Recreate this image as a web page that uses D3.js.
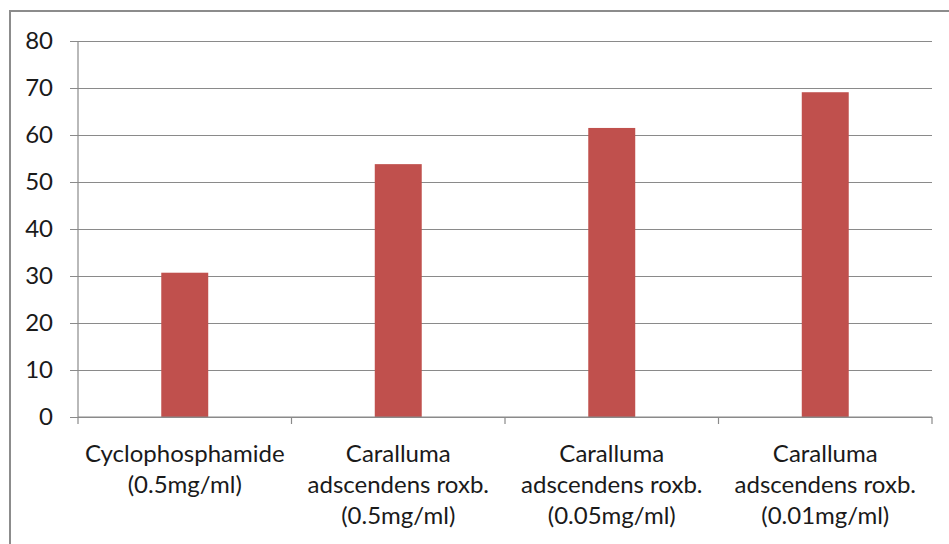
<!DOCTYPE html>
<html>
<head>
<meta charset="utf-8">
<script src="https://cdn.jsdelivr.net/npm/d3@7"></script>
<style>
  body { margin: 0; background: #fff; }
  svg { display: block; }
  .grid line { stroke: #8a8a8a; stroke-width: 1.2; }
  .grid path { display: none; }
  text { font-family: Lato, "Open Sans", sans-serif; fill: #1a1a1a; }
</style>
</head>
<body>
<svg id="grafico" width="949" height="544"></svg>
<script>
const categorias = [
  'Cyclophosphamide\n(0.5mg/ml)',
  'Caralluma\nadscendens roxb.\n(0.5mg/ml)',
  'Caralluma\nadscendens roxb.\n(0.05mg/ml)',
  'Caralluma\nadscendens roxb.\n(0.01mg/ml)'
]
const valores = [30.7, 53.8, 61.5, 69.1]
const yTicks = [0, 10, 20, 30, 40, 50, 60, 70, 80]

const svg = d3.select('#grafico')

const margin = { top: 41, bottom: 127, left: 78, right: 17 }
const width = 949 - margin.left - margin.right
const height = 544 - margin.top - margin.bottom

/*moldura*/
svg.append('rect')
  .attr('x', 10)
  .attr('y', 11)
  .attr('width', 960)
  .attr('height', 560)
  .attr('fill', 'none')
  .attr('stroke', '#8c8c8c')
  .attr('stroke-width', 2)

const chart = svg.append('g')
  .attr('transform', `translate(${margin.left}, ${margin.top})`)

const xSlot = d3.scaleBand()
  .range([0, width])
  .domain(d3.range(categorias.length))
  .padding(0)

const xBar = d3.scaleBand()
  .range([0, width])
  .domain(d3.range(categorias.length))
  .paddingInner(0.78)
  .paddingOuter(0.39)

const yScale = d3.scaleLinear()
  .range([height, 0])
  .domain([0, 80])

/*linhas de grade*/
chart.append('g')
  .attr('class', 'grid')
  .call(d3.axisLeft(yScale)
    .tickValues(yTicks)
    .tickSize(-width)
    .tickFormat('')
  )
  .call(g => g.selectAll('line').attr('x1', -8))

/*eixo y*/
chart.append('line')
  .attr('x1', 0).attr('x2', 0)
  .attr('y1', 0).attr('y2', height)
  .attr('stroke', '#8a8a8a')
  .attr('stroke-width', 1.2)

chart.append('g')
  .selectAll('text')
  .data(yTicks)
  .enter()
  .append('text')
  .attr('x', -25)
  .attr('y', (d) => yScale(d))
  .attr('dy', '0.35em')
  .attr('text-anchor', 'end')
  .attr('font-size', 24)
  .text((d) => d)

/*barras*/
chart.selectAll('.bar')
  .data(valores)
  .enter()
  .append('rect')
  .attr('class', 'bar')
  .attr('x', (d, i) => xBar(i))
  .attr('y', (d) => yScale(d))
  .attr('width', xBar.bandwidth())
  .attr('height', (d) => height - yScale(d))
  .attr('fill', '#c0504d')

/*eixo x*/
chart.append('line')
  .attr('x1', 0).attr('x2', width)
  .attr('y1', height).attr('y2', height)
  .attr('stroke', '#8a8a8a')
  .attr('stroke-width', 1.2)

const bordas = d3.range(categorias.length + 1).map((i) => i * xSlot.step())
chart.append('g')
  .selectAll('line')
  .data(bordas)
  .enter()
  .append('line')
  .attr('x1', (d) => d).attr('x2', (d) => d)
  .attr('y1', height).attr('y2', height + 7)
  .attr('stroke', '#8a8a8a')
  .attr('stroke-width', 1.2)

const rotulos = chart.append('g')
  .selectAll('text')
  .data(categorias)
  .enter()
  .append('text')
  .attr('text-anchor', 'middle')
  .attr('font-size', 24)
  .attr('transform', (d, i) => `translate(${xSlot(i) + xSlot.bandwidth() / 2}, ${height + 45})`)

rotulos.selectAll('tspan')
  .data((d) => d.split('\n'))
  .enter()
  .append('tspan')
  .attr('x', 0)
  .attr('y', (d, i) => i * 31)
  .text((d) => d)
</script>
</body>
</html>
